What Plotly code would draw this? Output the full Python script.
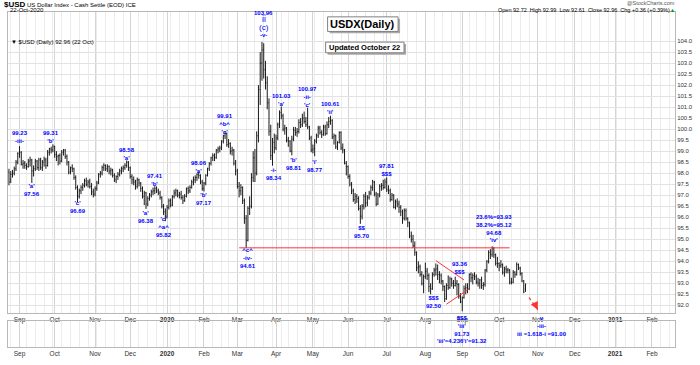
import pandas as pd
import plotly.graph_objects as go

# ---------------- data ----------------
HOLIDAYS = ["2019-09-02", "2019-11-28", "2019-12-25", "2020-01-01", "2020-01-20",
            "2020-02-17", "2020-04-10", "2020-05-25", "2020-07-03", "2020-09-07"]
FIRST_DAY = "2019-08-23"
AXIS_END = "2021-03-12"

opens = [
    98.05, 97.70, 97.95, 98.00, 98.20, 98.50,
    98.90, 98.95, 98.40, 98.45, 98.35, 98.30, 98.55, 98.60, 98.10, 98.20, 98.55, 98.25, 98.60, 98.25, 98.50, 98.60, 98.35, 98.95, 99.10, 99.05,
    99.20, 98.85, 98.75, 98.80, 98.55, 98.95, 99.05, 98.75, 98.50, 98.05, 98.25, 98.20, 97.80, 97.35, 96.95, 97.20, 97.35, 97.45, 97.65, 97.50, 97.60, 97.40, 97.15,
    97.05, 97.30, 97.55, 97.95, 98.00, 98.25, 98.35, 98.20, 98.30, 98.10, 98.15, 97.90, 97.70, 97.85, 97.95, 98.10, 98.20, 98.25, 98.35, 98.50,
    98.25, 97.85, 97.70, 97.60, 97.40, 97.70, 97.55, 97.30, 96.95, 97.10, 96.60, 96.85, 97.00, 97.15, 97.20, 97.30, 97.20, 97.10, 96.90, 96.50, 96.25,
    96.05, 96.45, 96.75, 96.55, 96.95, 97.10, 97.20, 97.00, 97.05, 96.90, 96.75, 96.95, 97.30, 97.20, 97.35, 97.60, 97.70, 97.80, 97.95, 97.90, 97.60,
    97.30, 97.55, 97.90, 98.20, 98.45, 98.70, 98.80, 98.70, 99.05, 99.10, 99.15, 99.45, 99.70, 99.80, 99.30, 99.35, 99.00, 99.05, 98.45,
    98.10, 97.40, 97.20, 97.35, 96.75, 95.95, 94.95, 96.40, 96.50, 97.80, 98.70, 98.00, 99.70, 101.80, 103.00, 103.60, 102.70, 102.10, 101.20, 99.90, 98.80, 99.40,
    99.15, 99.60, 100.20, 100.75, 100.60, 100.00, 100.05, 99.50, 99.45, 99.00, 99.55, 99.95, 99.85, 99.90, 100.30, 100.20, 100.50, 100.35, 100.20, 100.10, 99.60,
    99.05, 99.10, 99.45, 99.70, 100.05, 99.85, 99.75, 100.10, 99.80, 100.20, 100.35, 100.40, 99.65, 99.70, 99.20, 99.40, 99.85, 99.15, 99.05, 98.45,
    98.30, 97.85, 97.50, 97.20, 96.80, 96.95, 96.85, 96.40, 96.05, 96.50, 96.95, 96.65, 96.90, 97.10, 97.35, 97.60, 97.05, 96.60, 97.00, 97.40, 97.45, 97.35,
    97.60, 97.25, 97.20, 96.80, 97.00, 96.45, 96.70, 96.60, 96.45, 96.25, 95.95, 96.30, 95.95, 95.75, 95.15, 95.00, 94.70, 94.40, 93.70, 93.75, 93.40, 93.00,
    93.30, 93.55, 93.35, 92.85, 92.75, 93.40, 93.60, 93.65, 93.40, 93.35, 93.10, 92.85, 92.30, 92.90, 92.80, 93.20, 93.00, 92.90, 93.00, 92.95, 92.40,
    92.15, 92.35, 92.75, 92.80, 92.75, 93.40, 93.25, 93.35, 93.30, 93.05, 93.00, 93.15, 92.90, 92.95, 93.60, 94.00, 94.40, 94.30, 94.60, 94.30, 93.90,
    93.90, 93.80, 93.85, 93.50, 93.65, 93.60, 93.60, 93.05, 93.05, 93.50, 93.40, 93.85, 93.70, 93.45, 93.10, 92.72,
]
highs = [
    98.20, 98.10, 98.15, 98.30, 98.60, 98.95,
    99.23, 99.00, 98.60, 98.55, 98.45, 98.65, 98.75, 98.65, 98.35, 98.65, 98.60, 98.70, 98.70, 98.60, 98.75, 98.70, 99.05, 99.15, 99.20, 99.31,
    99.25, 99.00, 98.85, 98.90, 99.05, 99.10, 99.10, 98.85, 98.55, 98.30, 98.40, 98.25, 97.90, 97.45, 97.30, 97.45, 97.55, 97.75, 97.80, 97.70, 97.75, 97.55, 97.30,
    97.40, 97.65, 98.00, 98.10, 98.35, 98.45, 98.40, 98.40, 98.35, 98.25, 98.20, 98.00, 97.90, 98.05, 98.20, 98.30, 98.35, 98.45, 98.58, 98.55,
    98.30, 97.95, 97.85, 97.70, 97.80, 97.75, 97.60, 97.40, 97.20, 97.15, 96.95, 97.10, 97.25, 97.35, 97.41, 97.40, 97.30, 97.20, 96.95, 96.60, 96.40,
    96.55, 96.85, 96.85, 97.00, 97.25, 97.30, 97.25, 97.15, 97.20, 97.00, 97.05, 97.35, 97.40, 97.45, 97.70, 97.85, 97.90, 98.00, 98.06, 97.95, 97.70,
    97.60, 97.95, 98.25, 98.50, 98.75, 98.90, 98.90, 99.10, 99.20, 99.25, 99.50, 99.75, 99.91, 99.85, 99.55, 99.40, 99.20, 99.10, 98.60,
    98.20, 97.60, 97.50, 97.40, 96.85, 96.10, 96.50, 96.95, 98.00, 99.00, 99.10, 99.90, 102.00, 103.50, 103.96, 103.90, 103.10, 102.40, 101.40, 100.20, 99.60, 99.80,
    99.75, 100.30, 100.85, 101.03, 100.70, 100.20, 100.10, 99.65, 99.50, 99.70, 100.10, 100.10, 100.05, 100.45, 100.50, 100.70, 100.80, 100.55, 100.97, 100.15, 99.70,
    99.30, 99.55, 99.80, 100.15, 100.15, 99.95, 100.20, 100.20, 100.35, 100.55, 100.61, 100.45, 99.80, 99.75, 99.45, 99.90, 99.90, 99.35, 99.10, 98.55,
    98.35, 97.95, 97.60, 97.30, 97.10, 97.05, 96.95, 96.55, 96.60, 97.05, 97.15, 97.00, 97.20, 97.45, 97.70, 97.65, 97.15, 97.10, 97.50, 97.55, 97.70, 97.75,
    97.81, 97.45, 97.30, 97.10, 97.05, 96.80, 96.85, 96.75, 96.55, 96.35, 96.40, 96.40, 96.00, 95.80, 95.35, 95.20, 94.90, 94.45, 94.00, 93.85, 93.55, 93.40,
    93.94, 93.70, 93.45, 93.00, 93.50, 93.70, 93.90, 93.85, 93.55, 93.45, 93.15, 92.90, 93.00, 93.36, 93.30, 93.25, 93.15, 93.30, 93.15, 93.00, 92.55,
    92.40, 92.90, 93.00, 93.00, 93.45, 93.50, 93.45, 93.50, 93.40, 93.25, 93.20, 93.30, 93.05, 93.65, 94.05, 94.50, 94.55, 94.68, 94.65, 94.35, 94.20,
    93.95, 94.05, 93.90, 93.75, 93.80, 93.70, 93.65, 93.25, 93.60, 93.55, 93.95, 93.90, 93.75, 93.50, 93.15, 92.99,
]
lows = [
    97.45, 97.55, 97.80, 97.90, 98.10, 98.40,
    98.70, 98.35, 98.20, 98.20, 98.15, 98.25, 98.30, 97.56, 97.85, 98.10, 98.15, 98.10, 98.15, 98.10, 98.30, 98.20, 98.30, 98.80, 98.90, 98.95,
    98.70, 98.55, 98.35, 98.40, 98.50, 98.80, 98.65, 98.35, 97.95, 97.95, 98.05, 97.70, 97.25, 96.69, 96.85, 97.05, 97.20, 97.35, 97.40, 97.35, 97.30, 97.00, 96.90,
    96.95, 97.20, 97.50, 97.80, 97.90, 98.10, 98.10, 98.05, 97.95, 97.90, 97.80, 97.60, 97.55, 97.70, 97.85, 97.95, 98.05, 98.15, 98.25, 98.10,
    97.75, 97.50, 97.45, 97.25, 97.30, 97.40, 97.15, 96.85, 96.55, 96.38, 96.50, 96.75, 96.90, 97.00, 97.05, 97.10, 97.00, 96.80, 96.40, 96.10, 95.82,
    95.95, 96.35, 96.45, 96.50, 96.85, 96.95, 96.90, 96.85, 96.80, 96.60, 96.70, 96.90, 97.05, 97.10, 97.30, 97.45, 97.55, 97.65, 97.75, 97.50, 97.20,
    97.17, 97.45, 97.85, 98.10, 98.35, 98.55, 98.55, 98.65, 98.90, 98.95, 99.05, 99.35, 99.55, 99.20, 99.15, 98.85, 98.80, 98.35, 97.90,
    97.30, 96.90, 97.00, 96.60, 95.70, 94.61, 94.90, 96.10, 96.40, 97.60, 97.60, 97.90, 99.40, 101.10, 102.20, 102.30, 101.80, 100.90, 99.70, 98.60, 98.34, 98.90,
    99.05, 99.50, 100.05, 100.45, 99.90, 99.75, 99.40, 99.20, 98.95, 98.81, 99.45, 99.70, 99.65, 99.80, 100.05, 100.10, 100.25, 100.10, 100.00, 99.50, 98.95,
    98.90, 98.77, 99.35, 99.60, 99.75, 99.60, 99.70, 99.70, 99.75, 100.05, 100.20, 99.55, 99.30, 99.10, 99.05, 99.35, 99.05, 98.90, 98.40, 97.90,
    97.75, 97.40, 97.05, 96.70, 96.60, 96.65, 96.30, 95.70, 95.90, 96.35, 96.45, 96.50, 96.80, 97.00, 97.20, 96.95, 96.50, 96.55, 96.90, 97.20, 97.25, 97.30,
    97.15, 97.05, 96.70, 96.75, 96.40, 96.35, 96.45, 96.20, 96.05, 95.70, 95.85, 95.85, 95.55, 95.05, 94.85, 94.60, 94.25, 93.55, 93.45, 93.30, 92.90, 92.55,
    93.20, 93.15, 92.60, 92.50, 92.70, 93.30, 93.35, 93.15, 93.00, 92.95, 92.65, 92.15, 92.25, 92.70, 92.75, 92.85, 92.75, 92.85, 92.45, 92.30, 92.10,
    91.73, 92.30, 92.50, 92.55, 92.70, 93.05, 92.95, 93.15, 92.95, 92.85, 92.75, 92.75, 92.70, 92.85, 93.50, 93.90, 94.10, 94.20, 94.15, 93.80, 93.70,
    93.55, 93.70, 93.40, 93.30, 93.45, 93.45, 92.95, 92.95, 93.00, 93.25, 93.35, 93.60, 93.35, 93.05, 92.55, 92.61,
]
closes = [
    97.60, 97.95, 98.00, 98.20, 98.50, 98.90,
    98.95, 98.40, 98.45, 98.35, 98.30, 98.55, 98.60, 98.10, 98.20, 98.55, 98.25, 98.60, 98.25, 98.50, 98.60, 98.35, 98.95, 99.10, 99.05, 99.20,
    98.85, 98.75, 98.80, 98.55, 98.95, 99.05, 98.75, 98.50, 98.05, 98.25, 98.20, 97.80, 97.35, 96.95, 97.20, 97.35, 97.45, 97.65, 97.50, 97.60, 97.40, 97.15, 97.05,
    97.30, 97.55, 97.95, 98.00, 98.25, 98.35, 98.20, 98.30, 98.10, 98.15, 97.90, 97.70, 97.85, 97.95, 98.10, 98.20, 98.25, 98.35, 98.50, 98.25,
    97.85, 97.70, 97.60, 97.40, 97.70, 97.55, 97.30, 96.95, 97.10, 96.60, 96.85, 97.00, 97.15, 97.20, 97.30, 97.20, 97.10, 96.90, 96.50, 96.25, 96.05,
    96.45, 96.75, 96.55, 96.95, 97.10, 97.20, 97.00, 97.05, 96.90, 96.75, 96.95, 97.30, 97.20, 97.35, 97.60, 97.70, 97.80, 97.95, 97.90, 97.60, 97.30,
    97.55, 97.90, 98.20, 98.45, 98.70, 98.80, 98.70, 99.05, 99.10, 99.15, 99.45, 99.70, 99.80, 99.30, 99.35, 99.00, 99.05, 98.45, 98.10,
    97.40, 97.20, 97.35, 96.75, 95.95, 94.95, 96.40, 96.50, 97.80, 98.70, 98.00, 99.70, 101.80, 103.00, 103.60, 102.70, 102.10, 101.20, 99.90, 98.80, 99.40, 99.15,
    99.60, 100.20, 100.75, 100.60, 100.00, 100.05, 99.50, 99.45, 99.00, 99.55, 99.95, 99.85, 99.90, 100.30, 100.20, 100.50, 100.35, 100.20, 100.10, 99.60, 99.05,
    99.10, 99.45, 99.70, 100.05, 99.85, 99.75, 100.10, 99.80, 100.20, 100.35, 100.40, 99.65, 99.70, 99.20, 99.40, 99.85, 99.15, 99.05, 98.45, 98.30,
    97.85, 97.50, 97.20, 96.80, 96.95, 96.85, 96.40, 96.05, 96.50, 96.95, 96.65, 96.90, 97.10, 97.35, 97.60, 97.05, 96.60, 97.00, 97.40, 97.45, 97.35, 97.60,
    97.25, 97.20, 96.80, 97.00, 96.45, 96.70, 96.60, 96.45, 96.25, 95.95, 96.30, 95.95, 95.75, 95.15, 95.00, 94.70, 94.40, 93.70, 93.75, 93.40, 93.00, 93.30,
    93.55, 93.35, 92.85, 92.75, 93.40, 93.60, 93.65, 93.40, 93.35, 93.10, 92.85, 92.30, 92.90, 92.80, 93.20, 93.00, 92.90, 93.00, 92.95, 92.40, 92.15,
    92.35, 92.75, 92.80, 92.75, 93.40, 93.25, 93.35, 93.30, 93.05, 93.00, 93.15, 92.90, 92.95, 93.60, 94.00, 94.40, 94.30, 94.60, 94.30, 93.90, 93.90,
    93.80, 93.85, 93.50, 93.65, 93.60, 93.60, 93.05, 93.05, 93.50, 93.40, 93.85, 93.70, 93.45, 93.10, 92.60, 92.96,
]

price_ticks = [92.0, 92.5, 93.0, 93.5, 94.0, 94.5, 95.0, 95.5, 96.0, 96.5, 97.0, 97.5, 98.0,
               98.5, 99.0, 99.5, 100.0, 100.5, 101.0, 101.5, 102.0, 102.5, 103.0, 103.5, 104.0]

# support line from the March low, drawn triangle and projected path
support_dates = ["2020-03-03", "2020-10-09"]
support_low_date = "2020-03-09"
wedge_upper_dates = ["2020-08-11", "2020-09-02"]
wedge_upper_vals = [94.03, 93.15]
wedge_lower_dates = ["2020-08-19", "2020-09-08"]
wedge_lower_vals = [92.05, 92.75]
proj_dates = ["2020-10-26", "2020-11-02"]
proj_vals = [92.35, 91.80]

# wave labels: (date, price level of label centre, text)
wave_labels = [
    ("2019-09-03", 99.65, "99.23<br>-iii-"),
    ("2019-09-12", 97.23, "'a'<br>97.56"),
    ("2019-09-27", 99.63, "99.31<br>'b'"),
    ("2019-10-18", 96.48, "'c'<br>96.69"),
    ("2019-11-27", 98.86, "98.58<br>'a'"),
    ("2019-12-13", 95.99, "'a'<br>96.38"),
    ("2019-12-20", 97.71, "97.41<br>'b'"),
    ("2019-12-30", 95.55, "'c'<br>^a^<br>95.82"),
    ("2020-01-29", 98.27, "98.06<br>'a'"),
    ("2020-02-03", 96.81, "'b'<br>97.17"),
    ("2020-02-20", 100.25, "99.91<br>^b^<br>'c'"),
    ("2020-03-10", 94.15, "^c^<br>-iv-<br>94.61"),
    ("2020-03-31", 97.98, "-i-<br>98.34"),
    ("2020-04-06", 101.33, "101.03<br>'a'"),
    ("2020-04-16", 98.42, "'b'<br>98.81"),
    ("2020-04-28", 101.47, "100.97<br>-ii-<br>'c'"),
    ("2020-05-04", 98.31, "'i'<br>98.77"),
    ("2020-05-15", 100.98, "100.61<br>'ii'"),
    ("2020-06-11", 95.35, "$$<br>95.70"),
    ("2020-07-01", 98.16, "97.81<br>$$$"),
    ("2020-08-10", 92.16, "$$$<br>92.50"),
    ("2020-08-31", 93.70, "93.36<br>$$$"),
    ("2020-09-28", 95.50, "23.6%=93.93<br>38.2%=95.12<br>94.68<br>'iv'"),
]

# ---------------- chart ----------------
W, H = 700, 365
ML, MR, MT, MB = 7, 21, 12, 8
PW, PH = W - ML - MR, H - MT - MB
FONT = "Liberation Sans, Arial, sans-serif"
BLUE = "#0000ff"
RED = "#ff3333"
BAR = "#1a1a1a"


def px_x(p):
    return (p - ML) / PW


def px_y(p):
    return (H - MB - p) / PH


cal = pd.bdate_range(FIRST_DAY, AXIS_END, freq="C", holidays=HOLIDAYS)
n = len(closes)
assert len(opens) == len(highs) == len(lows) == n
xi = list(range(n))
pos = {d.strftime("%Y-%m-%d"): i for i, d in enumerate(cal)}

month_idx, month_txt = [], []
for i in range(1, len(cal)):
    if cal[i].month != cal[i - 1].month:
        month_idx.append(i)
        month_txt.append(f"<b>{cal[i].year}</b>" if cal[i].month == 1 else cal[i].strftime("%b"))
week_idx = [i for i in range(1, len(cal))
            if cal[i].isocalendar()[1] != cal[i - 1].isocalendar()[1]]

fig = go.Figure()
fig.add_trace(go.Ohlc(
    x=xi, open=opens, high=highs, low=lows, close=closes,
    increasing=dict(line=dict(color=BAR, width=1)),
    decreasing=dict(line=dict(color=BAR, width=1)),
    tickwidth=0.35, hoverinfo="skip", showlegend=False, xaxis="x", yaxis="y"))

sup_y = lows[pos[support_low_date]]
fig.add_trace(go.Scatter(x=[pos[d] for d in support_dates], y=[sup_y, sup_y], mode="lines",
                         line=dict(color=RED, width=1), hoverinfo="skip", showlegend=False))
fig.add_trace(go.Scatter(x=[pos[d] for d in wedge_upper_dates], y=wedge_upper_vals, mode="lines",
                         line=dict(color=RED, width=1), hoverinfo="skip", showlegend=False))
fig.add_trace(go.Scatter(x=[pos[d] for d in wedge_lower_dates], y=wedge_lower_vals, mode="lines",
                         line=dict(color=RED, width=1), hoverinfo="skip", showlegend=False))
fig.add_trace(go.Scatter(x=[pos[d] for d in proj_dates], y=proj_vals, mode="lines",
                         line=dict(color=RED, width=1.2, dash="dot"), hoverinfo="skip", showlegend=False))
# empty lower panel
fig.add_trace(go.Scatter(x=[0], y=[0.5], mode="markers", marker=dict(opacity=0),
                         hoverinfo="skip", showlegend=False, xaxis="x2", yaxis="y2"))

annos = []
for d, yv, txt in wave_labels:
    annos.append(dict(x=pos[d], y=yv, xref="x", yref="y", text=f"<b>{txt}</b>", showarrow=False,
                      font=dict(family=FONT, size=6, color=BLUE), xanchor="center", yanchor="middle"))

peak = "2020-03-23"
for yv, txt, sz in [(105.28, "<b>103.96</b>", 6), (104.98, "ii", 8.5), (104.60, "(c)", 8),
                    (104.26, "<b>-v-</b>", 6)]:
    annos.append(dict(x=pos[peak], y=yv, xref="x", yref="y", text=txt, showarrow=False,
                      font=dict(family=FONT, size=sz, color=BLUE), xanchor="center", yanchor="middle"))

low_day = "2020-09-01"
annos.append(dict(x=pos[low_day], y=lows[pos[low_day]], xref="x", yref="y",
                  text="<b>$$$<br>'iii'<br>91.73<br>'iii'=4.236'i'=91.32</b>", showarrow=False,
                  font=dict(family=FONT, size=6, color=BLUE), xanchor="center", yanchor="middle",
                  yshift=-18))
annos.append(dict(x=pos["2020-11-03"], y=proj_vals[-1], xref="x", yref="y",
                  text="<b>v<br>-iii-<br>iii =1.618-i =91.00</b>", showarrow=False,
                  font=dict(family=FONT, size=6, color=BLUE), xanchor="center", yanchor="middle",
                  yshift=-16, xshift=2))
# arrow head of projection
annos.append(dict(x=pos[proj_dates[-1]], y=proj_vals[-1], xref="x", yref="y", ax=-3, ay=-6,
                  showarrow=True, arrowhead=2, arrowsize=1.3, arrowwidth=1.2, arrowcolor=RED, text=""))

# header
annos += [
    dict(x=px_x(1), y=px_y(4), xref="paper", yref="paper", xanchor="left", yanchor="middle",
         showarrow=False, text="<b><span style='font-size:8px'>$USD</span></b> US Dollar Index - Cash Settle (EOD) ICE",
         font=dict(family=FONT, size=6, color="#000")),
    dict(x=px_x(7), y=px_y(10), xref="paper", yref="paper", xanchor="left", yanchor="middle",
         showarrow=False, text="22-Oct-2020", font=dict(family=FONT, size=6, color="#000")),
    dict(x=px_x(681), y=px_y(3), xref="paper", yref="paper", xanchor="right", yanchor="middle",
         showarrow=False, text="@StockCharts.com", font=dict(family=FONT, size=5.5, color="#555")),
    dict(x=px_x(681), y=px_y(10), xref="paper", yref="paper", xanchor="right", yanchor="middle",
         showarrow=False,
         text="Open 92.72  High 92.99  Low 92.61  Close 92.96  Chg +0.36 (+0.39%)<span style='color:#00a000'>▲</span>",
         font=dict(family=FONT, size=5.5, color="#000")),
    dict(x=px_x(8), y=px_y(43), xref="paper", yref="paper", xanchor="left", yanchor="middle",
         showarrow=False, text="▼ $USD (Daily) 92.96 (22 Oct)", font=dict(family=FONT, size=6, color="#000")),
    dict(x=px_x(364.5), y=px_y(24.5), xref="paper", yref="paper", xanchor="center", yanchor="middle",
         showarrow=False, text="<b>USDX(Daily)</b>", font=dict(family=FONT, size=11, color="#000")),
    dict(x=px_x(366.5), y=px_y(48.5), xref="paper", yref="paper", xanchor="center", yanchor="middle",
         showarrow=False, text="<b>Updated October 22</b>", font=dict(family=FONT, size=7.5, color="#000")),
]

shapes = []
for (x0, y0, x1, y1) in [(329, 17, 400, 32), (327, 43, 406, 54)]:
    shapes.append(dict(type="rect", xref="paper", yref="paper", x0=px_x(x0 + 2), x1=px_x(x1 + 2),
                       y0=px_y(y1 + 2), y1=px_y(y0 + 2), fillcolor="#a8a8a8", line=dict(width=0),
                       layer="above"))
    shapes.append(dict(type="rect", xref="paper", yref="paper", x0=px_x(x0), x1=px_x(x1),
                       y0=px_y(y1), y1=px_y(y0), fillcolor="#ffffff",
                       line=dict(color="#808080", width=1), layer="above"))

xcommon = dict(range=[-0.56, -0.56 + PW / 1.77], tickmode="array", tickvals=month_idx, ticktext=month_txt,
               showgrid=True, gridcolor="#d4d4d4", gridwidth=1,
               minor=dict(tickmode="array", tickvals=week_idx, showgrid=True, gridcolor="#ececec",
                          gridwidth=1),
               showline=True, mirror=True, linecolor="#b8b8b8", linewidth=1, ticks="",
               tickfont=dict(family=FONT, size=6.5, color="#333"), zeroline=False, fixedrange=True)

fig.update_layout(
    width=W, height=H, margin=dict(l=ML, r=MR, t=MT, b=MB, pad=0),
    paper_bgcolor="white", plot_bgcolor="white",
    xaxis=dict(**xcommon, domain=[0, 1], anchor="y", rangeslider=dict(visible=False)),
    xaxis2=dict(**xcommon, domain=[0, 1], anchor="y2", matches="x"),
    yaxis=dict(domain=[px_y(322), 1], range=[91.65, 105.32], side="right", tickmode="array",
               tickvals=price_ticks, ticktext=[f"{v:.1f}" for v in price_ticks],
               showgrid=True, gridcolor="#e2e2e2", showline=True, mirror=True, linecolor="#b8b8b8",
               ticks="", tickfont=dict(family=FONT, size=6, color="#333"), zeroline=False,
               fixedrange=True),
    yaxis2=dict(domain=[0, px_y(330)], range=[0, 1], showgrid=False, showticklabels=False,
                showline=True, mirror=True, linecolor="#b8b8b8", ticks="", zeroline=False,
                fixedrange=True),
    annotations=annos, shapes=shapes, showlegend=False, hovermode=False,
)

fig.write_html("out.html", config={"displayModeBar": False, "staticPlot": True},
               post_script="document.body.style.margin='0';document.body.style.overflow='hidden';")
